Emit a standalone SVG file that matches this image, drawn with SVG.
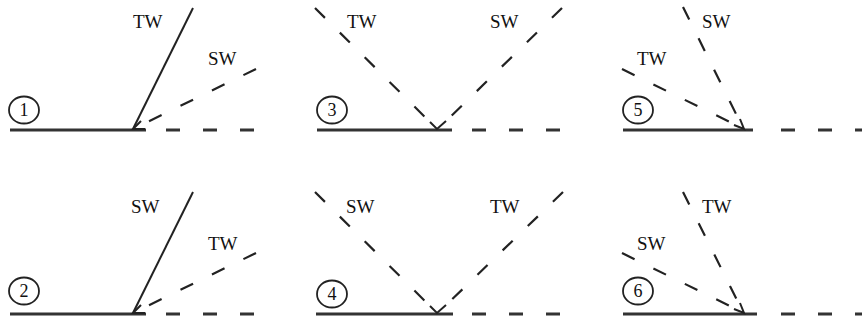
<svg xmlns="http://www.w3.org/2000/svg" width="862" height="322" viewBox="0 0 862 322">
<style>
.bg{fill:#fff}
.base{stroke:#333;stroke-width:3;fill:none}
.based{stroke:#333;stroke-width:3;fill:none;stroke-dasharray:14 23}
.sol{stroke:#222;stroke-width:2;fill:none}
.dash{stroke:#222;stroke-width:2.2;fill:none;stroke-dasharray:14 21}
.arr{stroke:#222;stroke-width:2;fill:none;stroke-linejoin:miter}
.lbl{font-family:"Liberation Serif","Times New Roman",serif;font-size:19px;fill:#111}
.num{font-family:"Liberation Serif","Times New Roman",serif;font-size:18px;fill:#111;text-anchor:middle}
.circ{stroke:#222;stroke-width:1.8;fill:none}
</style>
<rect class="bg" x="0" y="0" width="862" height="322"/>

<g id="panel1">
  <ellipse class="circ" cx="24" cy="110" rx="15" ry="13.5"/>
  <text class="num" x="24" y="116">1</text>
  <line class="base" x1="10" y1="130" x2="146" y2="130"/>
  <line class="based" x1="166" y1="130" x2="258" y2="130"/>
  <line class="sol" x1="133" y1="129" x2="193" y2="8"/>
  <line class="dash" x1="256" y1="69" x2="137" y2="127"/>
  <polyline class="arr" points="141,121 133,129 145,129"/>
  <text class="lbl" x="133" y="28">TW</text>
  <text class="lbl" x="208" y="65">SW</text>
</g>

<g id="panel3">
  <ellipse class="circ" cx="332" cy="110" rx="15" ry="13.5"/>
  <text class="num" x="332" y="116">3</text>
  <line class="base" x1="317" y1="130" x2="452" y2="130"/>
  <line class="based" x1="472" y1="130" x2="564" y2="130"/>
  <line class="dash" x1="315" y1="8" x2="435" y2="127"/>
  <line class="dash" x1="562" y1="8" x2="440" y2="127"/>
  <polyline class="arr" points="430,122 437,129 446,121"/>
  <text class="lbl" x="347" y="28">TW</text>
  <text class="lbl" x="490" y="28">SW</text>
</g>

<g id="panel5">
  <ellipse class="circ" cx="638" cy="110" rx="15" ry="13.5"/>
  <text class="num" x="638" y="116">5</text>
  <line class="base" x1="623" y1="130" x2="753" y2="130"/>
  <line class="based" x1="781" y1="130" x2="870" y2="130"/>
  <line class="dash" x1="683" y1="7" x2="742" y2="126"/>
  <line class="dash" x1="622" y1="69" x2="740" y2="127"/>
  <polyline class="arr" points="734,125 744,129 740,119"/>
  <text class="lbl" x="702" y="28">SW</text>
  <text class="lbl" x="637" y="65">TW</text>
</g>

<g id="panel2">
  <ellipse class="circ" cx="24" cy="291" rx="15" ry="13.5"/>
  <text class="num" x="24" y="297">2</text>
  <line class="base" x1="10" y1="314" x2="146" y2="314"/>
  <line class="based" x1="166" y1="314" x2="258" y2="314"/>
  <line class="sol" x1="133" y1="313" x2="193" y2="192"/>
  <line class="dash" x1="256" y1="253" x2="137" y2="311"/>
  <polyline class="arr" points="141,305 133,313 145,313"/>
  <text class="lbl" x="131" y="213">SW</text>
  <text class="lbl" x="208" y="250">TW</text>
</g>

<g id="panel4">
  <ellipse class="circ" cx="332" cy="294" rx="15" ry="13.5"/>
  <text class="num" x="332" y="300">4</text>
  <line class="base" x1="316" y1="314" x2="453" y2="314"/>
  <line class="based" x1="472" y1="314" x2="564" y2="314"/>
  <line class="dash" x1="315" y1="192" x2="435" y2="311"/>
  <line class="dash" x1="563" y1="192" x2="440" y2="311"/>
  <polyline class="arr" points="430,306 437,313 446,305"/>
  <text class="lbl" x="346" y="213">SW</text>
  <text class="lbl" x="490" y="213">TW</text>
</g>

<g id="panel6">
  <ellipse class="circ" cx="638" cy="291" rx="15" ry="13.5"/>
  <text class="num" x="638" y="297">6</text>
  <line class="base" x1="623" y1="314" x2="757" y2="314"/>
  <line class="based" x1="781" y1="314" x2="870" y2="314"/>
  <line class="dash" x1="683" y1="192" x2="742" y2="310"/>
  <line class="dash" x1="622" y1="253" x2="740" y2="311"/>
  <polyline class="arr" points="734,309 744,313 740,303"/>
  <text class="lbl" x="702" y="213">TW</text>
  <text class="lbl" x="637" y="250">SW</text>
</g>
</svg>
